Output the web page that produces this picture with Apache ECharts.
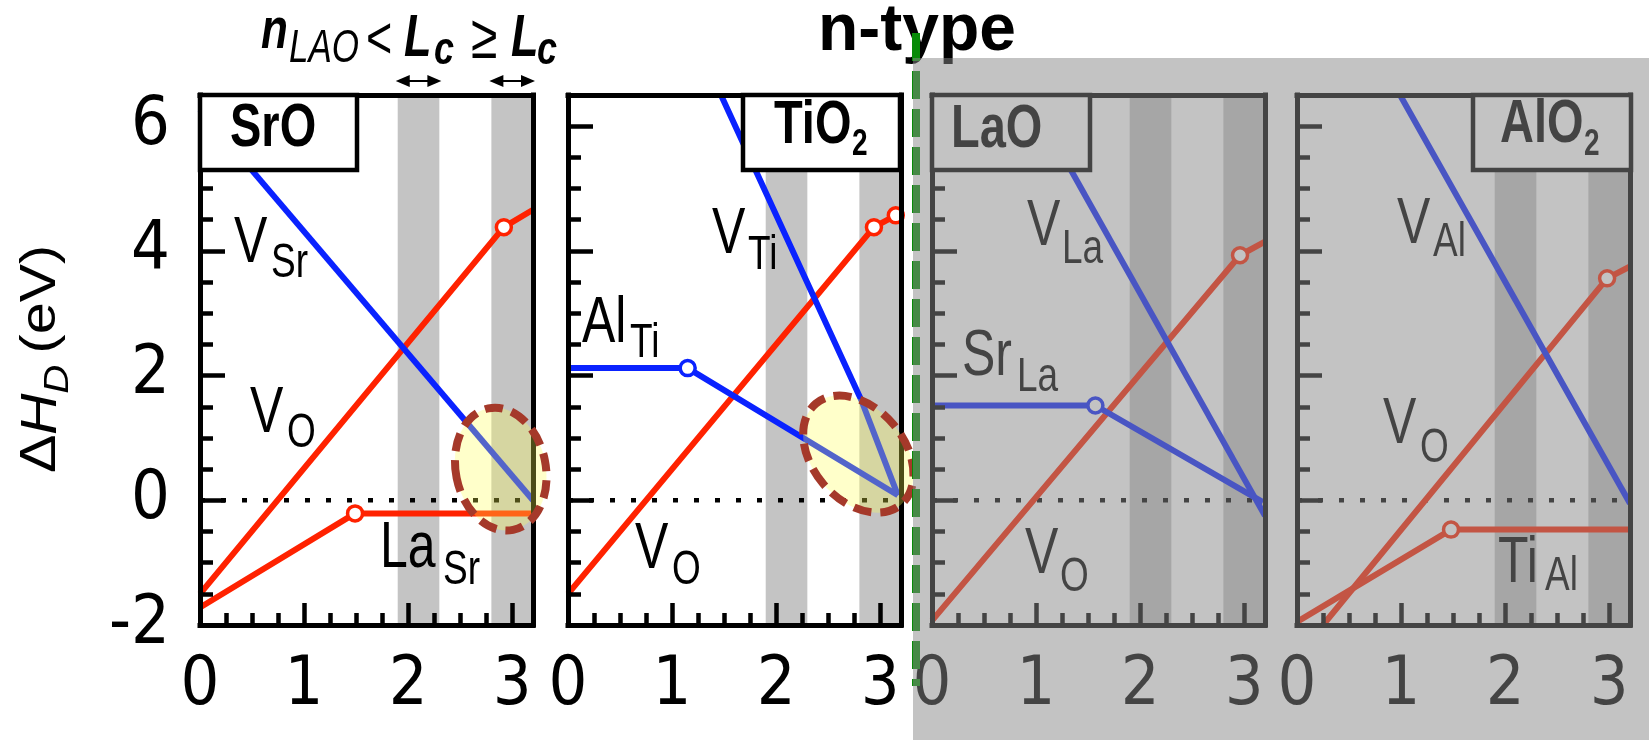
<!DOCTYPE html>
<html>
<head>
<meta charset="utf-8">
<script src="https://cdn.jsdelivr.net/npm/echarts@6/dist/echarts.min.js"></script>
<style>
  html, body { margin: 0; padding: 0; background: #fff; }
  #chart { width: 1649px; height: 740px; }
</style>
</head>
<body>
<div id="chart"></div>
<script>
// defect formation enthalpy vs n_LAO, four interface layers
const xTicks = [0, 1, 2, 3];
const yTicks = [-2, 0, 2, 4, 6];
const bands = [[1.9, 2.3], [2.8, 3.2]];

// SrO layer
const srV_Sr = [[0, 6.27], [3.2, 0]];
const srV_O = [[0, -1.5], [2.92, 4.38], [3.2, 4.66]];
const srLa_Sr = [[0, -1.72], [1.49, -0.21], [3.2, -0.21]];
// TiO2 layer
const tiV_Ti = [[1.47, 6.5], [2.82, 1.6], [3.17, 0.08]];
const tiAl_Ti = [[0, 2.12], [1.15, 2.12], [3.17, 0.08]];
const tiV_O = [[0, -1.5], [2.94, 4.38], [3.15, 4.57]];
// LaO layer
const laV_La = [[0.93, 6.5], [3.2, -0.25]];
const laSr_La = [[0, 1.52], [1.57, 1.52], [3.18, -0.03]];
const laV_O = [[0, -1.93], [2.96, 3.93], [3.2, 4.15]];
// AlO2 layer
const alV_Al = [[0.99, 6.5], [3.2, -0.05]];
const alV_O = [[0.25, -2], [2.98, 3.56], [3.2, 3.75]];
const alTi_Al = [[0, -1.95], [1.48, -0.47], [3.2, -0.47]];

// highlighted regions (data coords of centre)
const highlights = [{grid: 0, at: [2.89, 0.5]}, {grid: 1, at: [2.79, 0.74]}];

const RED = '#ff2200', BLUE = '#0a22ff';
const FONT = '"Liberation Sans", Arial, sans-serif';
const NARROW = '"Liberation Sans Narrow", "DejaVu Sans Condensed", sans-serif';
const gridLeft = [200, 568, 932, 1297];
const SY = 1.3;      // the source figure is stretched vertically
const MID = 0.3465;  // canvas middle baseline, in em above alphabetic

const chart = echarts.init(document.getElementById('chart'));

const grids = [], xAxes = [], yAxes = [];
gridLeft.forEach((left, i) => {
    grids.push({left: left, top: 95, width: 333, height: 530, outerBoundsMode: 'none', containLabel: false});
    const bx = {gridIndex: i, type: 'value', min: 0, max: 3.2, z: 5,
        splitLine: {show: false}, axisLabel: {show: false}, axisTick: {show: false},
        axisLine: {show: false, onZero: false}};
    const by = Object.assign({}, bx, {min: -2, max: 6.5});
    const line = {show: true, onZero: false, lineStyle: {color: '#000', width: 5, cap: 'square'}};
    xAxes.push(Object.assign({}, bx, {
        interval: 1, position: 'bottom', axisLine: line,
        axisTick: {show: true, inside: true, length: 22, lineStyle: {color: '#000', width: 4.5}},
        axisLabel: {show: true, margin: 27, fontSize: 68, fontFamily: NARROW, color: '#000',
            showMaxLabel: false, formatter: v => xTicks.includes(v) ? String(v) : ''}
    }));
    xAxes.push(Object.assign({}, bx, {
        interval: 0.25, position: 'bottom',
        axisTick: {show: true, inside: true, length: 12, lineStyle: {color: '#000', width: 4.5}}
    }));
    xAxes.push(Object.assign({}, bx, {position: 'top', axisLine: line}));
    yAxes.push(Object.assign({}, by, {
        interval: 2, position: 'left', axisLine: line,
        axisTick: {show: true, inside: true, length: 25, lineStyle: {color: '#000', width: 4.5}},
        axisLabel: {show: i === 0, margin: 30, fontSize: 68, fontFamily: NARROW, color: '#000',
            showMaxLabel: false, formatter: v => yTicks.includes(v) ? String(v) : ''}
    }));
    yAxes.push(Object.assign({}, by, {
        interval: 0.5, position: 'left',
        axisTick: {show: true, inside: true, length: 13, lineStyle: {color: '#000', width: 4.5}}
    }));
    yAxes.push(Object.assign({}, by, {position: 'right', axisLine: line}));
});

function curve(gi, data, color, open) {
    return {
        type: 'line', xAxisIndex: gi * 3, yAxisIndex: gi * 3, z: 3,
        data: data.map((p, k) => ({value: p, symbol: open.includes(k) ? 'circle' : 'none'})),
        showSymbol: true, symbolSize: 15, silent: true,
        lineStyle: {color: color, width: 6},
        itemStyle: {color: '#fff', borderColor: color, borderWidth: 3.5}
    };
}
function zeroLine(gi) {
    return {
        type: 'line', xAxisIndex: gi * 3, yAxisIndex: gi * 3, z: 2,
        data: [[0, 0], [3.2, 0]], symbol: 'none', silent: true,
        lineStyle: {color: '#000', width: 4.5, type: [5, 16]},
        markArea: {silent: true, itemStyle: {color: '#c4c4c4'},
            data: bands.map(b => [{xAxis: b[0]}, {xAxis: b[1]}])}
    };
}

const series = [
    zeroLine(0), curve(0, srV_O, RED, [1]), curve(0, srLa_Sr, RED, [1]), curve(0, srV_Sr, BLUE, []),
    zeroLine(1), curve(1, tiV_O, RED, [1, 2]), curve(1, tiAl_Ti, BLUE, [1]), curve(1, tiV_Ti, BLUE, []),
    zeroLine(2), curve(2, laV_O, RED, [1]), curve(2, laSr_La, BLUE, [1]), curve(2, laV_La, BLUE, []),
    zeroLine(3), curve(3, alV_O, RED, [1]), curve(3, alTi_Al, RED, [1]), curve(3, alV_Al, BLUE, [])
];

chart.setOption({
    animation: false,
    textStyle: {fontFamily: FONT},
    grid: grids, xAxis: xAxes, yAxis: yAxes, series: series
});

// text piece: left edge, alphabetic baseline, font size
function tx(str, left, base, size, o) {
    o = o || {};
    const sy = o.sy == null ? SY : o.sy;
    return {
        type: 'text', x: left, y: base - MID * size * sy, scaleY: sy, z: o.z || 12, silent: true,
        style: {text: str, fill: '#000', fontSize: size, fontFamily: FONT,
            fontWeight: o.bold ? 'bold' : 'normal', fontStyle: o.italic ? 'italic' : 'normal',
            align: 'left', verticalAlign: 'middle'}
    };
}
function box(x, w, h) {
    return {type: 'rect', z: 11, silent: true, shape: {x: x, y: 95, width: w, height: h},
        style: {fill: '#fff', stroke: '#000', lineWidth: 4.5}};
}
function arrow(x0, x1, y) {
    const h = 14, w = 6;
    return [
        {type: 'line', z: 12, shape: {x1: x0 + h - 2, y1: y, x2: x1 - h + 2, y2: y}, style: {stroke: '#000', lineWidth: 2}},
        {type: 'polygon', z: 12, shape: {points: [[x0, y], [x0 + h, y - w], [x0 + h, y + w]]}, style: {fill: '#000'}},
        {type: 'polygon', z: 12, shape: {points: [[x1, y], [x1 - h, y - w], [x1 - h, y + w]]}, style: {fill: '#000'}}
    ];
}

const g = [];
// layer boxes
g.push(box(200, 157, 75), box(743, 157, 75), box(932, 158, 75), box(1473, 158, 75));
g.push(tx('SrO', 230, 150, 47, {bold: true}));
g.push(tx('TiO', 774, 147, 47, {bold: true}), tx('2', 852, 158, 28, {bold: true}));
g.push(tx('LaO', 951, 151, 47, {bold: true}));
g.push(tx('AlO', 1500, 146, 47, {bold: true}), tx('2', 1584, 158, 28, {bold: true}));

// curve labels [main, left, base, sub, left, base]
const curveLabels = [
    ['V', 234, 267, 'Sr', 271, 280], ['V', 250, 437, 'O', 287, 450], ['La', 380, 572, 'Sr', 443, 587],
    ['V', 712, 258, 'Ti', 748, 272], ['Al', 582, 347, 'Ti', 630, 360], ['V', 635, 573, 'O', 672, 587],
    ['V', 1027, 250, 'La', 1062, 266], ['Sr', 962, 380, 'La', 1017, 394], ['V', 1025, 578, 'O', 1060, 594],
    ['V', 1397, 248, 'Al', 1433, 259], ['V', 1383, 448, 'O', 1420, 465], ['Ti', 1498, 587, 'Al', 1545, 593]
];
curveLabels.forEach(c => { g.push(tx(c[0], c[1], c[2], 50), tx(c[3], c[4], c[5], 37)); });

// header over the first panel
g.push(tx('n', 261, 52, 44, {bold: true, italic: true}));
g.push(tx('LAO', 289, 65, 35, {italic: true}));
g.push(tx('<', 366, 62, 45));
g.push(tx('L', 404, 60, 45, {bold: true, italic: true}), tx('c', 434, 67, 36, {bold: true, italic: true}));
g.push(tx('\u2265', 471, 62, 48));
g.push(tx('L', 511, 60, 45, {bold: true, italic: true}), tx('c', 537, 67, 36, {bold: true, italic: true}));
bands.forEach(b => {
    const a = chart.convertToPixel({gridIndex: 0}, [b[0], 0])[0];
    const c = chart.convertToPixel({gridIndex: 0}, [b[1], 0])[0];
    arrow(a - 2, c + 2, 81).forEach(e => g.push(e));
});

// y axis title, rotated
g.push({
    type: 'group', x: 42, y: 473, rotation: Math.PI / 2, scaleX: 1.15, z: 12,
    children: [
        tx('\u0394', 0, 17, 50, {sy: 1}),
        tx('H', 33, 17, 50, {sy: 1, italic: true}),
        tx('D', 69, 28, 35, {sy: 1, italic: true}),
        tx('(eV)', 104, 17, 50, {sy: 1})
    ]
});

// highlighted ellipses
const ellShape = [[45, 62, 0.2], [46, 66, 0.7]];
highlights.forEach((h, k) => {
    const p = chart.convertToPixel({gridIndex: h.grid}, h.at);
    g.push({
        type: 'ellipse', x: p[0], y: p[1], rotation: ellShape[k][2], z: 20, silent: true,
        shape: {cx: 0, cy: 0, rx: ellShape[k][0], ry: ellShape[k][1]},
        style: {fill: 'rgba(255,255,80,0.3)', stroke: '#a5392a', lineWidth: 8, lineDash: [18, 9]}
    });
});

// n-type annotation, divider and grey veil
g.push(tx('n-type', 818, 55, 66, {bold: true, sy: 1, z: 30}));
g.push({type: 'line', z: 40, silent: true, shape: {x1: 916, y1: 33, x2: 916, y2: 686},
    style: {stroke: '#078a07', lineWidth: 8, lineDash: [28, 10]}});
g.push({type: 'rect', z: 50, silent: true, shape: {x: 913, y: 58, width: 736, height: 682},
    style: {fill: 'rgba(136,136,136,0.5)'}});

chart.setOption({graphic: {elements: g}});
</script>
</body>
</html>
